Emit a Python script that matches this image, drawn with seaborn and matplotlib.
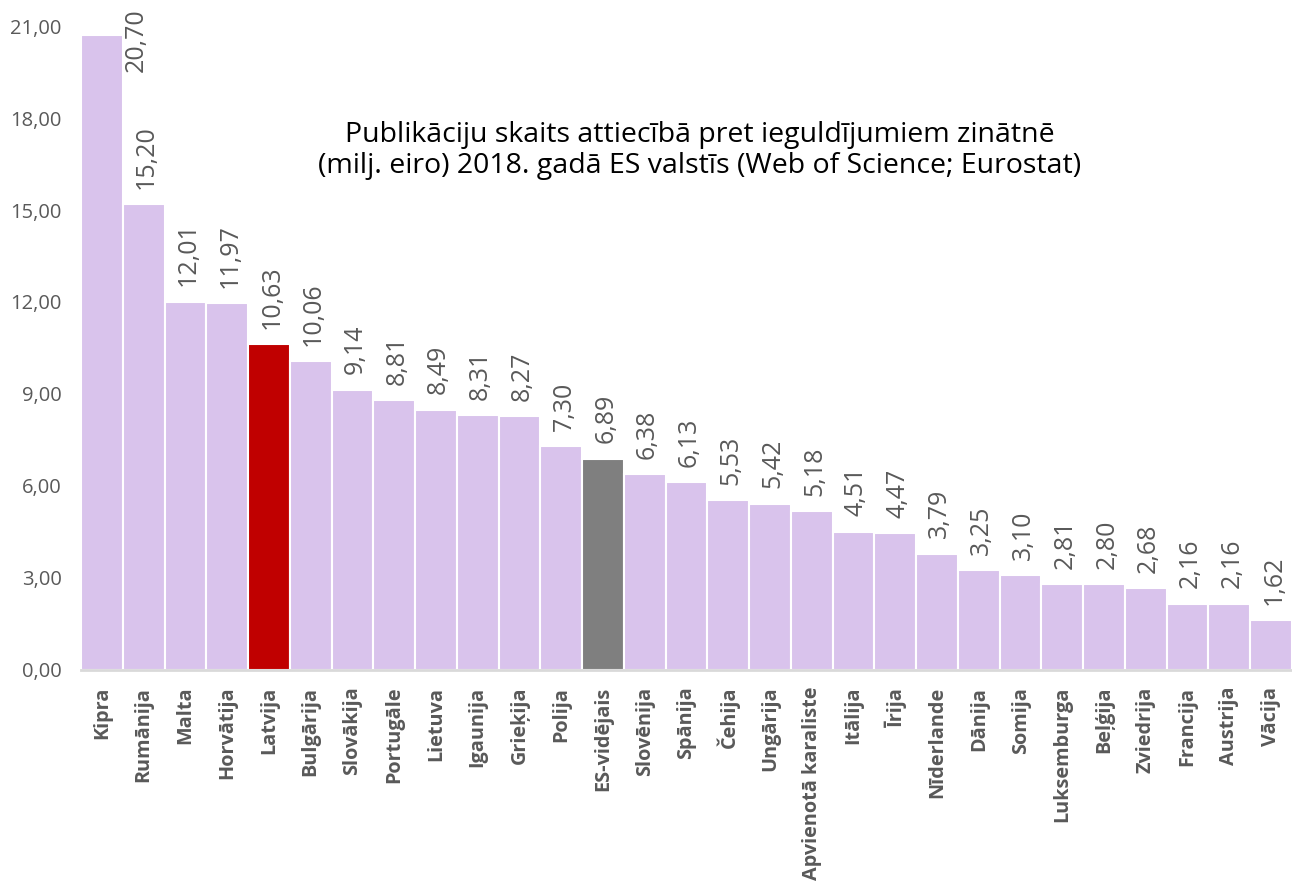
import seaborn as sns
from matplotlib import pyplot as plt
import pandas as pd

# Data
countries = ['Kipra', 'Rumānija', 'Malta', 'Horvātija', 'Latvija', 'Bulgārija',
             'Slovākija', 'Portugāle', 'Lietuva', 'Igaunija', 'Grieķija', 'Polija',
             'ES-vidējais', 'Slovēnija', 'Spānija', 'Čehija', 'Ungārija',
             'Apvienotā karaliste', 'Itālija', 'Īrija', 'Nīderlande', 'Dānija',
             'Somija', 'Luksemburga', 'Beļģija', 'Zviedrija', 'Francija',
             'Austrija', 'Vācija']
values = [20.70, 15.20, 12.01, 11.97, 10.63, 10.06, 9.14, 8.81, 8.49, 8.31, 8.27,
          7.30, 6.89, 6.38, 6.13, 5.53, 5.42, 5.18, 4.51, 4.47, 3.79, 3.25, 3.10,
          2.81, 2.80, 2.68, 2.16, 2.16, 1.62]
yticks = [0, 3, 6, 9, 12, 15, 18, 21]
title = ('Publikāciju skaits attiecībā pret ieguldījumiem zinātnē\n'
         '(milj. eiro) 2018. gadā ES valstīs (Web of Science; Eurostat)')

highlight = {'Latvija': '#C00000', 'ES-vidējais': '#7F7F7F'}
base_color = '#D9C3EC'
colors = [highlight.get(c, base_color) for c in countries]

df = pd.DataFrame({'country': countries, 'value': values})

sns.set_style('white')
plt.rcParams['font.family'] = ['Open Sans', 'DejaVu Sans']
text_color = '#595959'

fig = plt.figure(figsize=(12.92, 8.94), dpi=100)
ax = fig.add_axes([0.0627, 0.2506, 0.9373, 0.7203])

sns.barplot(data=df, x='country', y='value', hue='country', palette=colors,
            legend=False, width=1.0, edgecolor='white', linewidth=1.5,
            saturation=1, ax=ax)

ax.set_ylim(0, 21)
ax.set_xlim(-0.5, len(countries) - 0.5)
ax.set_yticks(yticks)
ax.set_yticklabels([f'{t:.2f}'.replace('.', ',') for t in yticks],
                   fontsize=14.5, color=text_color)
ax.set_xticks(range(len(countries)))
ax.set_xticklabels(countries, rotation=90, fontsize=14.3, fontweight='bold',
                   color=text_color)
ax.tick_params(axis='both', length=0)
ax.tick_params(axis='x', pad=12)
ax.tick_params(axis='y', pad=14)
ax.set_xlabel('')
ax.set_ylabel('')

for side in ['top', 'right', 'left']:
    ax.spines[side].set_visible(False)
ax.spines['bottom'].set_color('#D9D9D9')
ax.spines['bottom'].set_linewidth(2)

# value labels on top of bars
for i, v in enumerate(values):
    label = f'{v:.2f}'.replace('.', ',')
    if v > 19:
        # no room above the tallest bar: put the label beside it
        ax.annotate(label, (i + 0.5, 21), xytext=(1, 13), textcoords='offset points',
                    rotation=90, ha='left', va='top', fontsize=18, color=text_color,
                    annotation_clip=False)
    else:
        ax.annotate(label, (i, v), xytext=(2, 11), textcoords='offset points',
                    rotation=90, ha='center', va='bottom', fontsize=18,
                    color=text_color)

ax.text(0.511, 0.807, title, transform=ax.transAxes, ha='center', va='center',
        fontsize=20.5, color='black', linespacing=1.15)

fig.savefig('out.png', dpi=100)
